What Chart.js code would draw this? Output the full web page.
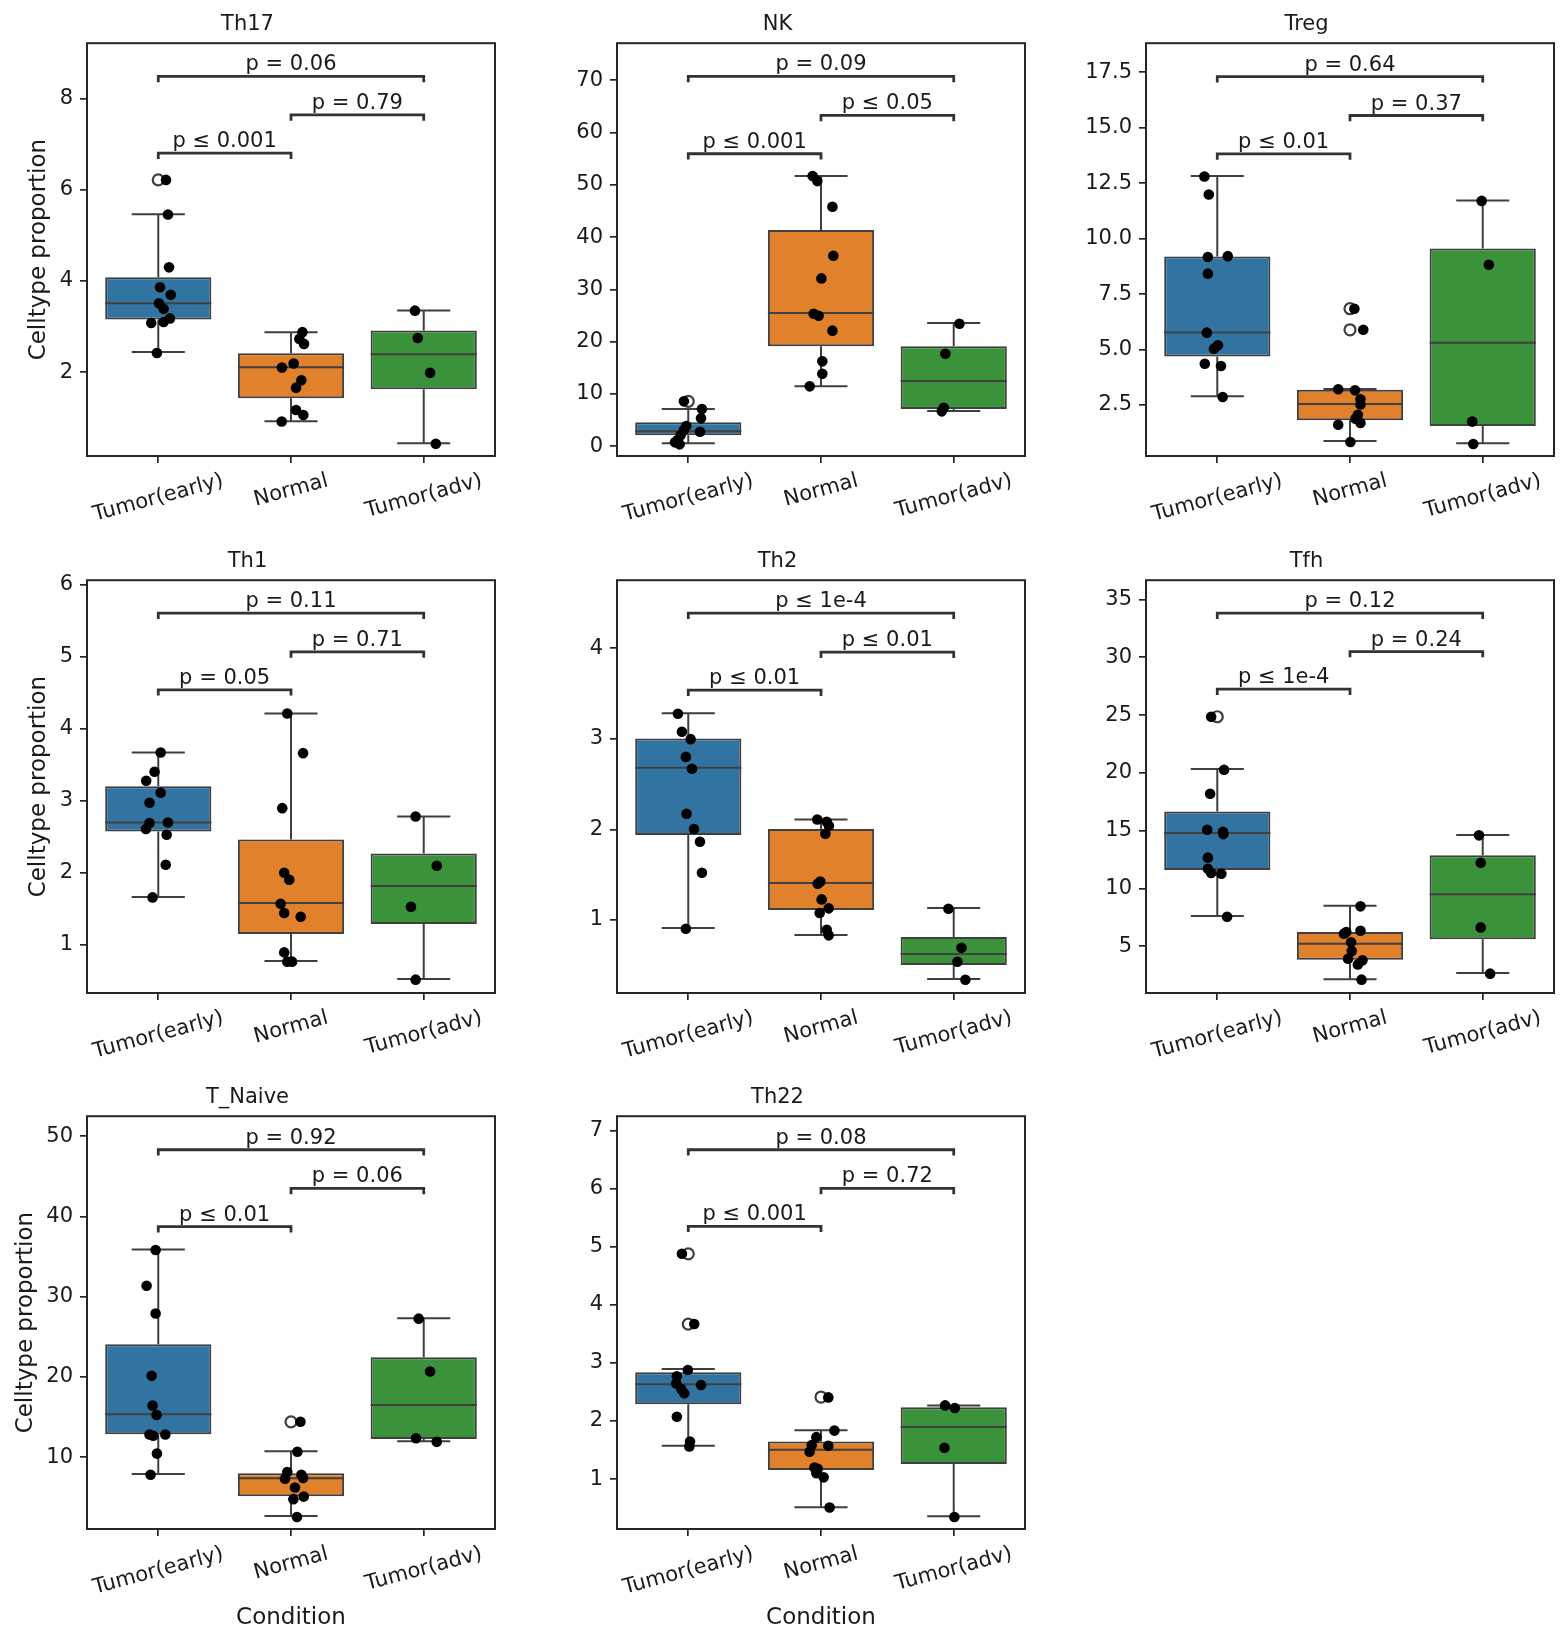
<!DOCTYPE html>
<html><head><meta charset="utf-8">
<script src="https://cdn.jsdelivr.net/npm/chart.js@4.4.0/dist/chart.umd.min.js"></script>
<style>
html,body{margin:0;padding:0;background:#fff;}
#fig{position:relative;width:1568px;height:1644px;overflow:hidden;background:#fff;}
canvas{position:absolute;}
</style></head><body><div id="fig"></div>
<script>
// ---------------- DATA ----------------
const categories = ['Tumor(early)', 'Normal', 'Tumor(adv)'];
const categoryIndex = [0, 1, 2];
const xLimits = [-0.537, 2.537];
const panelTitles = ['Th17', 'NK', 'Treg', 'Th1', 'Th2', 'Tfh', 'T_Naive', 'Th22'];

const yMin = [0.16, -1.85, 0.2, 0.334, 0.195, 0.965, 1.05, 0.14];
const yMax = [9.22, 77.1, 18.81, 6.065, 4.75, 36.67, 52.5, 7.25];
const yTicks = [
  [2, 4, 6, 8],
  [0, 10, 20, 30, 40, 50, 60, 70],
  [2.5, 5, 7.5, 10, 12.5, 15, 17.5],
  [1, 2, 3, 4, 5, 6],
  [1, 2, 3, 4],
  [5, 10, 15, 20, 25, 30, 35],
  [10, 20, 30, 40, 50],
  [1, 2, 3, 4, 5, 6, 7]
];
const yTickLabels = [
  ['2', '4', '6', '8'],
  ['0', '10', '20', '30', '40', '50', '60', '70'],
  ['2.5', '5.0', '7.5', '10.0', '12.5', '15.0', '17.5'],
  ['1', '2', '3', '4', '5', '6'],
  ['1', '2', '3', '4'],
  ['5', '10', '15', '20', '25', '30', '35'],
  ['10', '20', '30', '40', '50'],
  ['1', '2', '3', '4', '5', '6', '7']
];

// box statistics per panel: [Tumor(early), Normal, Tumor(adv)]
const boxQ1 = [
  [3.156, 1.43, 1.627], [2.10, 19.12, 7.14], [4.69, 1.81, 1.554], [2.577, 1.153, 1.291],
  [1.9375, 1.11, 0.504], [11.6, 3.85, 5.605], [12.86, 5.14, 12.27], [2.288, 1.157, 1.258]
];
const boxMedian = [
  [3.514, 2.11, 2.395], [2.87, 25.49, 12.49], [5.77, 2.545, 5.31], [2.702, 1.583, 1.819],
  [2.68, 1.408, 0.625], [14.80, 5.23, 9.5], [15.36, 7.36, 16.5], [2.633, 1.503, 1.898]
];
const boxQ3 = [
  [4.085, 2.417, 2.914], [4.59, 41.36, 19.12], [9.197, 3.19, 9.557], [3.206, 2.466, 2.272],
  [3.004, 2.004, 0.8125], [16.67, 6.24, 12.87], [24.09, 8.0, 22.45], [2.84, 1.647, 2.237]
];
const whiskerLow = [
  [2.44, 0.925, 0.442], [0.57, 11.47, 6.76], [2.89, 0.878, 0.773], [1.666, 0.778, 0.528],
  [0.912, 0.835, 0.349], [7.62, 2.15, 2.695], [7.91, 2.68, 12.0], [1.572, 0.516, 0.36]
];
const whiskerHigh = [
  [5.467, 2.878, 3.353], [7.14, 51.69, 23.58], [12.82, 3.22, 11.72], [3.673, 4.215, 2.785],
  [3.283, 2.11, 1.132], [20.33, 8.52, 14.63], [35.9, 10.73, 27.32], [2.897, 1.842, 2.269]
];
const fliers = [
  [[6.22], [], []], [[8.6], [], []], [[], [6.84, 5.89], []], [[], [], []],
  [[], [], []], [[24.86], [], []], [[], [14.41], []], [[4.88, 3.67], [2.413], []]
];

// strip points (values) and their horizontal jitter
const pointValues = [
  [[6.22, 5.46, 4.30, 3.865, 3.70, 3.51, 3.39, 3.18, 3.08, 3.10, 2.42],
   [2.878, 2.73, 2.62, 2.19, 2.10, 1.82, 1.66, 1.17, 1.06, 0.917],
   [3.35, 2.75, 1.985, 0.427]],
  [[8.60, 7.14, 5.35, 3.89, 3.12, 2.80, 2.10, 1.15, 0.76, 0.38],
   [51.69, 50.73, 45.83, 36.46, 32.12, 25.37, 24.98, 22.12, 16.25, 13.89, 11.47],
   [23.45, 17.72, 7.39, 6.69]],
  [[12.80, 11.99, 9.17, 9.21, 8.42, 5.76, 5.19, 5.04, 4.36, 4.26, 2.86],
   [6.84, 5.89, 3.21, 3.16, 2.76, 2.52, 2.06, 1.88, 1.69, 1.61, 0.83],
   [11.70, 8.82, 1.75, 0.743]],
  [[3.673, 3.405, 3.28, 3.114, 2.975, 2.702, 2.693, 2.61, 2.53, 2.115, 1.661],
   [4.215, 3.664, 2.90, 2.004, 1.907, 1.574, 1.444, 1.393, 0.898, 0.769, 0.769],
   [2.785, 2.10, 1.532, 0.519]],
  [[3.276, 3.077, 2.996, 2.80, 2.669, 2.173, 2.004, 1.864, 1.522, 0.904],
   [2.11, 2.085, 2.04, 1.952, 1.426, 1.40, 1.228, 1.129, 1.077, 0.893, 0.831],
   [1.125, 0.695, 0.54, 0.342]],
  [[24.86, 20.27, 18.2, 15.09, 14.91, 14.71, 12.67, 11.71, 11.34, 11.28, 7.56],
   [8.46, 6.24, 6.35, 6.10, 5.35, 4.60, 3.93, 3.79, 3.44, 2.12],
   [14.60, 12.23, 6.64, 2.64]],
  [[35.82, 31.36, 27.9, 20.14, 16.45, 15.27, 12.82, 12.68, 12.82, 10.45, 7.82],
   [14.41, 10.68, 8.14, 7.82, 7.32, 7.41, 6.23, 4.77, 5.09, 2.55],
   [27.27, 20.68, 12.36, 11.91]],
  [[4.88, 3.67, 2.878, 2.77, 2.62, 2.646, 2.55, 2.476, 2.074, 1.647, 1.56],
   [2.407, 1.835, 1.722, 1.584, 1.572, 1.471, 1.20, 1.176, 1.10, 1.03, 0.51],
   [2.269, 2.225, 1.54, 0.347]]
];
const pointJitter = [
  [[0.058, 0.073, 0.081, 0.013, 0.094, 0.005, 0.04, 0.088, -0.053, 0.04, -0.01],
   [0.086, 0.063, 0.098, 0.02, -0.068, 0.078, 0.038, 0.038, 0.093, -0.07],
   [-0.066, -0.045, 0.048, 0.091]],
  [[-0.033, 0.103, 0.096, -0.015, -0.033, 0.088, -0.058, -0.083, -0.10, -0.065],
   [-0.063, -0.028, 0.086, 0.093, 0.003, -0.055, -0.018, 0.086, 0.01, 0.01, -0.085],
   [0.043, -0.063, -0.075, -0.09]],
  [[-0.097, -0.064, -0.071, 0.079, -0.071, -0.079, 0.005, -0.025, -0.094, 0.028, 0.041],
   [0.033, 0.10, -0.089, 0.038, 0.079, 0.079, 0.059, 0.041, 0.079, -0.089, 0.003],
   [-0.008, 0.046, -0.079, -0.071]],
  [[0.018, -0.028, -0.091, 0.018, -0.066, 0.073, -0.066, -0.093, 0.063, 0.056, -0.043],
   [-0.028, 0.091, -0.066, -0.051, -0.013, -0.078, -0.051, 0.073, -0.051, -0.028, 0.008],
   [-0.061, 0.098, -0.096, -0.061]],
  [[-0.078, -0.048, 0.018, -0.018, 0.028, -0.013, 0.043, 0.088, 0.103, -0.018],
   [-0.028, 0.043, 0.06, 0.033, -0.005, -0.025, 0.005, 0.058, -0.01, 0.043, 0.058],
   [-0.04, 0.058, 0.028, 0.088]],
  [[-0.046, 0.051, -0.054, -0.076, 0.043, 0.046, -0.071, -0.071, -0.046, 0.031, 0.074],
   [0.079, -0.028, 0.079, -0.046, 0.008, 0.013, -0.015, 0.094, 0.059, 0.087],
   [-0.028, -0.015, -0.015, 0.056]],
  [[-0.02, -0.088, -0.02, -0.05, -0.043, -0.013, -0.066, -0.038, 0.053, -0.01, -0.058],
   [0.071, 0.048, -0.028, 0.078, -0.045, 0.091, 0.03, 0.018, 0.096, 0.045],
   [-0.038, 0.048, -0.058, 0.098]],
  [[-0.048, 0.045, -0.003, -0.086, 0.096, -0.091, -0.053, -0.03, -0.086, 0.013, 0.008],
   [0.055, 0.101, -0.035, -0.07, 0.055, -0.086, -0.05, -0.025, -0.035, 0.02, 0.065],
   [-0.065, 0.008, -0.07, 0.005]]
];

// significance brackets: pairs (early-normal, normal-adv, early-adv)
const bracketPairs = [[0, 1], [1, 2], [0, 2]];
const bracketHeights = [
  [6.806, 7.647, 8.49], [55.96, 63.29, 70.75], [13.82, 15.55, 17.30], [4.543, 5.07, 5.607],
  [3.537, 3.956, 4.386], [27.25, 30.50, 33.82], [38.73, 43.5, 48.32], [5.353, 6.006, 6.672]
];
const pLabels = [
  ['p ≤ 0.001', 'p = 0.79', 'p = 0.06'],
  ['p ≤ 0.001', 'p ≤ 0.05', 'p = 0.09'],
  ['p ≤ 0.01', 'p = 0.37', 'p = 0.64'],
  ['p = 0.05', 'p = 0.71', 'p = 0.11'],
  ['p ≤ 0.01', 'p ≤ 0.01', 'p ≤ 1e-4'],
  ['p ≤ 1e-4', 'p = 0.24', 'p = 0.12'],
  ['p ≤ 0.01', 'p = 0.06', 'p = 0.92'],
  ['p ≤ 0.001', 'p = 0.72', 'p = 0.08']
];
const yAxisTitle = 'Celltype proportion';
const xAxisTitle = 'Condition';

// ---------------- STYLE / LAYOUT ----------------
const FONT = "'DejaVu Sans', sans-serif";
const FS = 21;
const TXT = '#1a1a1a';
const LINE = '#3f3f3f';
const FRAME = '#262626';
const BRACKET = '#333333';
const boxColors = ['#3274a1', '#e1812c', '#3a923a'];
const colLeft = [87, 617, 1146];
const rowTop = [43, 580, 1116];
const AX_L = 87, AX_T = 43, AX_W = 408, AX_H = 413;

Chart.defaults.font.family = FONT;
Chart.defaults.color = TXT;

const framePlugin = {
  id: 'frame',
  afterDatasetsDraw(chart) {
    const { ctx, chartArea: a } = chart;
    ctx.save();
    ctx.strokeStyle = FRAME;
    ctx.lineWidth = 2;
    ctx.strokeRect(a.left, a.top, a.right - a.left, a.bottom - a.top);
    ctx.restore();
  }
};

function labelPlugin(p) {
  return {
    id: 'labels' + p,
    afterDraw(chart) {
      const ctx = chart.ctx, xs = chart.scales.x, ys = chart.scales.y, a = chart.chartArea;
      ctx.save();
      ctx.fillStyle = TXT;
      ctx.font = FS + 'px ' + FONT;
      ctx.textAlign = 'center';
      ctx.textBaseline = 'alphabetic';
      bracketPairs.forEach((pr, k) => {
        const x = (xs.getPixelForValue(pr[0]) + xs.getPixelForValue(pr[1])) / 2;
        const y = ys.getPixelForValue(bracketHeights[p][k]) - 6;
        ctx.fillText(pLabels[p][k], x, y);
      });
      const th = 15 * Math.PI / 180;
      categories.forEach((c, i) => {
        const w = ctx.measureText(c).width;
        const bh = w * Math.sin(th) + 16 * Math.cos(th);
        const x = xs.getPixelForValue(categoryIndex[i]);
        const y = a.bottom + 17 + bh / 2;
        ctx.save();
        ctx.translate(x, y);
        ctx.rotate(-th);
        ctx.textAlign = 'center';
        ctx.textBaseline = 'middle';
        ctx.fillText(c, 0, 0);
        ctx.restore();
      });
      ctx.restore();
    }
  };
}

const fig = document.getElementById('fig');

function buildPanel(p) {
  const r = Math.floor(p / 3), c = p % 3;
  const isBottom = r === 2;
  const cw = 520, ch = isBottom ? 571 : 536;
  const canvas = document.createElement('canvas');
  canvas.width = cw; canvas.height = ch;
  canvas.style.left = (colLeft[c] - AX_L) + 'px';
  canvas.style.top = (rowTop[r] - AX_T) + 'px';
  canvas.style.width = cw + 'px'; canvas.style.height = ch + 'px';
  fig.appendChild(canvas);

  const pts = [];
  pointValues[p].forEach((vals, g) => vals.forEach((v, k) => pts.push({ x: g + pointJitter[p][g][k], y: v })));
  const fl = [];
  fliers[p].forEach((vals, g) => vals.forEach(v => fl.push({ x: g, y: v })));
  const boxes = categoryIndex.map(g => ({ x: g, y: [boxQ1[p][g], boxQ3[p][g]] }));
  const med = [];
  categoryIndex.forEach(g => { med.push({ x: g - 0.4, y: boxMedian[p][g] }, { x: g + 0.4, y: boxMedian[p][g] }, { x: g, y: null }); });
  const wh = [];
  categoryIndex.forEach(g => {
    wh.push({ x: g, y: boxQ3[p][g] }, { x: g, y: whiskerHigh[p][g] }, { x: g, y: null },
      { x: g - 0.2, y: whiskerHigh[p][g] }, { x: g + 0.2, y: whiskerHigh[p][g] }, { x: g, y: null },
      { x: g, y: boxQ1[p][g] }, { x: g, y: whiskerLow[p][g] }, { x: g, y: null },
      { x: g - 0.2, y: whiskerLow[p][g] }, { x: g + 0.2, y: whiskerLow[p][g] }, { x: g, y: null });
  });
  const drop = (yMax[p] - yMin[p]) * 0.014;
  const br = [];
  bracketPairs.forEach((pr, k) => {
    const h = bracketHeights[p][k];
    br.push({ x: pr[0], y: h - drop }, { x: pr[0], y: h }, { x: pr[1], y: h }, { x: pr[1], y: h - drop }, { x: pr[1], y: null });
  });

  const lineCommon = { type: 'line', xAxisID: 'x', yAxisID: 'y', pointRadius: 0, spanGaps: false, fill: false, tension: 0 };

  new Chart(canvas, {
    type: 'bar',
    data: {
      datasets: [
        { type: 'scatter', data: pts, xAxisID: 'x', yAxisID: 'y', pointRadius: 5.3, backgroundColor: '#000', borderWidth: 0, pointBackgroundColor: '#000', pointBorderWidth: 0 },
        { type: 'scatter', data: fl, xAxisID: 'x', yAxisID: 'y', pointRadius: 5.5, backgroundColor: 'rgba(0,0,0,0)', borderColor: LINE, pointBorderColor: LINE, pointBackgroundColor: 'rgba(0,0,0,0)', pointBorderWidth: 2.2, borderWidth: 2.2 },
        Object.assign({ data: med, borderColor: LINE, borderWidth: 2 }, lineCommon),
        Object.assign({ data: br, borderColor: BRACKET, borderWidth: 2.8, clip: false }, lineCommon),
        { type: 'bar', data: boxes, backgroundColor: boxColors, borderColor: LINE, borderWidth: 2, borderSkipped: false, grouped: false, barPercentage: 0.8, categoryPercentage: 1.0, xAxisID: 'x', yAxisID: 'y' },
        Object.assign({ data: wh, borderColor: LINE, borderWidth: 2 }, lineCommon)
      ]
    },
    options: {
      responsive: false, animation: false, devicePixelRatio: 1,
      layout: { padding: { left: 0, top: 0, bottom: 0, right: cw - AX_L - AX_W } },
      plugins: {
        legend: { display: false }, tooltip: { enabled: false },
        title: { display: true, text: panelTitles[p], font: { size: FS, weight: 'normal' }, color: TXT, padding: { top: 12, bottom: 6 } }
      },
      scales: {
        x: {
          type: 'linear', offset: false, min: xLimits[0], max: xLimits[1],
          afterBuildTicks(s) { s.ticks = categoryIndex.map(v => ({ value: v })); },
          grid: { display: true, drawOnChartArea: false, drawTicks: true, tickLength: 7, offset: false, color: FRAME, lineWidth: 1.7 },
          border: { display: false }, ticks: { display: false },
          title: isBottom ? { display: true, text: xAxisTitle, font: { size: 23 }, color: TXT, padding: { top: 0, bottom: 12 } } : { display: false },
          afterFit(s) { s.height = ch - AX_T - AX_H; }
        },
        y: {
          type: 'linear', min: yMin[p], max: yMax[p],
          afterBuildTicks(s) { s.ticks = yTicks[p].map(v => ({ value: v })); },
          ticks: { callback: (v, i) => yTickLabels[p][i], font: { size: FS }, color: TXT, padding: 7, autoSkip: false },
          grid: { drawOnChartArea: false, drawTicks: true, tickLength: 7, color: FRAME, lineWidth: 1.7 },
          border: { display: false },
          title: c === 0 ? { display: true, text: yAxisTitle, font: { size: 23 }, color: TXT, padding: { top: isBottom ? 12 : 25, bottom: 0 } } : { display: false },
          afterFit(s) { s.width = AX_L; }
        }
      }
    },
    plugins: [framePlugin, labelPlugin(p)]
  });
}

for (let p = 0; p < panelTitles.length; p++) buildPanel(p);
</script>
</body></html>
